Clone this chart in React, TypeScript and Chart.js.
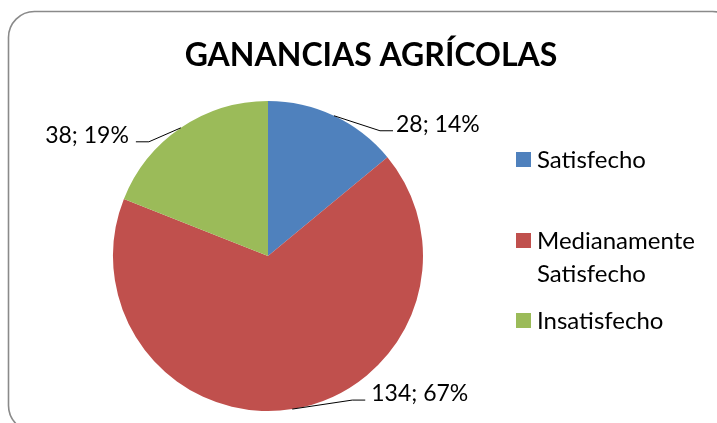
import React, { useEffect, useRef } from "react";
import { Chart, registerables } from "chart.js";

Chart.register(...registerables);

const title = "GANANCIAS AGRÍCOLAS";
const categories = ["Satisfecho", "Medianamente Satisfecho", "Insatisfecho"];
const legendLines = [["Satisfecho"], ["Medianamente", "Satisfecho"], ["Insatisfecho"]];
const values = [28, 134, 38];
const percents = ["14%", "67%", "19%"];
const colors = ["#4F81BD", "#C0504D", "#9BBB59"];

// leader-line elbow offsets relative to the slice's outer midpoint, and tail direction
const elbowOffsets = [
  [46, 15],
  [60, -9],
  [-32, 14],
];
const tailDir = [1, 1, -1];
const textGap = [3, 6, 7];

const FONT = "Lato, 'Open Sans', sans-serif";

const overlay = {
  id: "overlay",
  afterDraw(chart: any) {
    const ctx = chart.ctx as CanvasRenderingContext2D;
    ctx.save();
    // frame
    ctx.strokeStyle = "#8a8a8a";
    ctx.lineWidth = 1.6;
    ctx.beginPath();
    (ctx as any).roundRect(8.5, 11.5, 730, 420, 26);
    ctx.stroke();

    // title
    ctx.fillStyle = "#000";
    ctx.font = `bold 32px ${FONT}`;
    ctx.textAlign = "center";
    ctx.textBaseline = "alphabetic";
    ctx.fillText(title, 371, 66);

    // data labels with leader lines
    const meta = chart.getDatasetMeta(0);
    ctx.font = `23px ${FONT}`;
    meta.data.forEach((arc: any, i: number) => {
      const p = arc.getProps(["x", "y", "startAngle", "endAngle", "outerRadius"], true);
      const mid = (p.startAngle + p.endAngle) / 2;
      const ax = p.x + Math.cos(mid) * p.outerRadius;
      const ay = p.y + Math.sin(mid) * p.outerRadius;
      const ex = ax + elbowOffsets[i][0];
      const ey = ay + elbowOffsets[i][1];
      const tx = ex + tailDir[i] * 13;
      ctx.strokeStyle = "#000";
      ctx.lineWidth = 1;
      ctx.beginPath();
      ctx.moveTo(ax, ay);
      ctx.lineTo(ex, ey);
      ctx.lineTo(tx, ey);
      ctx.stroke();
      const text = `${values[i]}; ${percents[i]}`;
      ctx.textBaseline = "alphabetic";
      ctx.textAlign = tailDir[i] > 0 ? "left" : "right";
      ctx.fillStyle = "#000";
      ctx.fillText(text, tx + tailDir[i] * textGap[i], ey + 1);
    });

    // legend
    ctx.font = `24px ${FONT}`;
    const legendY = [152, 233, 313];
    legendLines.forEach((lines, i) => {
      ctx.fillStyle = colors[i];
      ctx.fillRect(516, legendY[i], 15, 15);
      ctx.fillStyle = "#000";
      ctx.textAlign = "left";
      lines.forEach((ln, j) => {
        ctx.fillText(ln, 537, legendY[i] + 16 + j * 33);
      });
    });
    ctx.restore();
  },
};

export default function App() {
  const ref = useRef<HTMLCanvasElement>(null);
  useEffect(() => {
    if (!ref.current) return;
    const chart = new Chart(ref.current, {
      type: "pie",
      data: {
        labels: categories,
        datasets: [
          {
            data: values,
            backgroundColor: colors,
            borderWidth: 0,
          },
        ],
      },
      options: {
        responsive: false,
        animation: false,
        layout: { padding: { left: 113, right: 294, top: 101, bottom: 12 } },
        plugins: {
          legend: { display: false },
          title: { display: false },
          tooltip: { enabled: false },
        },
      },
      plugins: [overlay],
    });
    return () => chart.destroy();
  }, []);
  return (
    <div style={{ position: "fixed", left: 0, top: 0, width: 717, height: 423, background: "#fff" }}>
      <canvas ref={ref} width={717} height={423} />
    </div>
  );
}
